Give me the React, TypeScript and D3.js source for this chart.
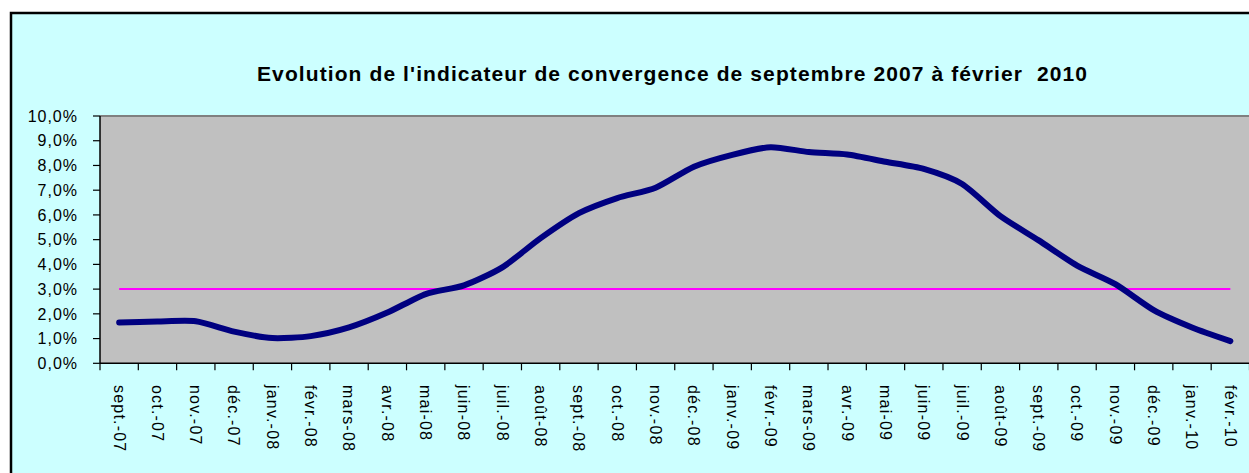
import React from "react";
import * as d3 from "d3";

const title = "Evolution de l'indicateur de convergence de septembre 2007 à février  2010";

const months = [
  "sept.-07", "oct.-07", "nov.-07", "déc.-07", "janv.-08", "févr.-08", "mars-08", "avr.-08",
  "mai-08", "juin-08", "juil.-08", "août-08", "sept.-08", "oct.-08", "nov.-08", "déc.-08",
  "janv.-09", "févr.-09", "mars-09", "avr.-09", "mai-09", "juin-09", "juil.-09", "août-09",
  "sept.-09", "oct.-09", "nov.-09", "déc.-09", "janv.-10", "févr.-10",
];

const indicator = [
  1.65, 1.69, 1.70, 1.28, 1.02, 1.10, 1.45, 2.05,
  2.80, 3.15, 3.88, 5.06, 6.07, 6.68, 7.10, 7.95,
  8.43, 8.74, 8.54, 8.44, 8.15, 7.86, 7.25, 5.95,
  4.97, 3.95, 3.20, 2.15, 1.45, 0.90,
];

const threshold = 3.0;

const yTicks = [0, 1, 2, 3, 4, 5, 6, 7, 8, 9, 10];

const W = 1249;
const H = 473;
const plot = { left: 100, top: 116, right: 1249.5, bottom: 363.3 };

export default function App() {
  const x = d3
    .scaleBand<string>()
    .domain(months)
    .range([plot.left, plot.right])
    .padding(0);
  const y = d3.scaleLinear().domain([0, 10]).range([plot.bottom, plot.top]);
  const cx = (m: string) => (x(m) as number) + x.bandwidth() / 2;

  const line = d3
    .line<number>()
    .x((_, i) => cx(months[i]))
    .y((d) => y(d))
    .curve(d3.curveCardinal.tension(0.3));

  const fmt = (v: number) => v.toFixed(1).replace(".", ",") + "%";
  const boundaries = [...months.map((m) => x(m) as number), plot.right];
  const font = "Arial, 'Liberation Sans', sans-serif";

  return (
    <svg
      width={W}
      height={H}
      style={{ position: "absolute", left: 0, top: 0, display: "block" }}
    >
      <rect x={0} y={0} width={W} height={H} fill="#ffffff" />
      <rect x={11} y={13} width={W + 20} height={H + 20} fill="#CCFFFF" stroke="#000" strokeWidth={2.5} />

      <text
        x={672}
        y={81}
        textAnchor="middle"
        textLength={830}
        lengthAdjust="spacing"
        fill="#000"
        style={{ whiteSpace: "pre", fontFamily: font, fontWeight: 700, fontSize: "21px" }}
      >
        {title}
      </text>

      <rect
        x={plot.left}
        y={plot.top}
        width={plot.right - plot.left + 5}
        height={plot.bottom - plot.top}
        fill="#C0C0C0"
      />
      <line x1={plot.left} x2={plot.right + 5} y1={plot.top} y2={plot.top} stroke="#808080" strokeWidth={2} />

      {/* threshold */}
      <line
        x1={cx(months[0])}
        x2={cx(months[months.length - 1])}
        y1={y(threshold)}
        y2={y(threshold)}
        stroke="#FF00FF"
        strokeWidth={2}
      />

      {/* series */}
      <path
        d={line(indicator) || ""}
        fill="none"
        stroke="#000080"
        strokeWidth={6}
        strokeLinecap="round"
        strokeLinejoin="round"
      />

      {/* y axis */}
      <line x1={plot.left} x2={plot.left} y1={plot.top} y2={plot.bottom} stroke="#000" strokeWidth={1.5} />
      {yTicks.map((t) => (
        <g key={t}>
          <line x1={plot.left - 7} x2={plot.left} y1={y(t)} y2={y(t)} stroke="#000" strokeWidth={1.2} />
          <text
            x={78}
            y={y(t)}
            dy="0.36em"
            textAnchor="end"
            fill="#000"
            style={{ fontFamily: font, fontSize: "16px", letterSpacing: "1px" }}
          >
            {fmt(t)}
          </text>
        </g>
      ))}

      {/* x axis */}
      <line x1={plot.left} x2={plot.right + 5} y1={plot.bottom} y2={plot.bottom} stroke="#000" strokeWidth={1.5} />
      {boundaries.map((b, i) => (
        <line key={i} x1={b} x2={b} y1={plot.bottom} y2={plot.bottom + 7} stroke="#000" strokeWidth={1.2} />
      ))}
      {months.map((m) => (
        <text
          key={m}
          transform={`translate(${cx(m)},385) rotate(90)`}
          dy="0.35em"
          textAnchor="start"
          fill="#000"
          style={{ fontFamily: font, fontSize: "16px", letterSpacing: "1.2px" }}
        >
          {m}
        </text>
      ))}
    </svg>
  );
}
